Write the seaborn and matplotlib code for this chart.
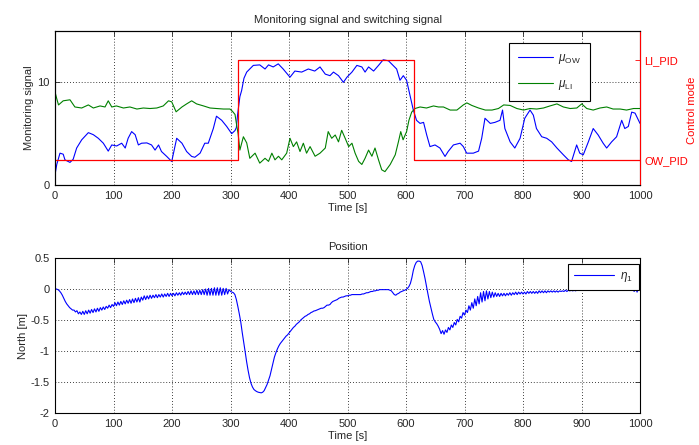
import numpy as np
import matplotlib
matplotlib.use("Agg")
import matplotlib.pyplot as plt
import seaborn as sns

# ---- monitoring signal of the OW controller ----
t_ow = [0, 3, 8.5, 14, 17, 25.6, 31, 37, 45.6, 57, 65.5, 74, 82.6, 91, 97, 105.4, 114, 120, 125, 131,
        137, 142.5, 148, 157, 165, 171, 177, 182, 191, 199.5, 203, 208, 217, 225, 233.6, 239, 248, 256,
        262, 270.6, 276, 285, 293.5, 302, 307.6, 310, 312, 316, 319, 323, 327.7, 333, 339, 350, 359, 365,
        373, 381.6, 390, 401.7, 410, 421.7, 433, 444, 453, 462, 470, 476, 484.6, 493, 499, 507.6, 516,
        524.5, 530, 536, 544.6, 553, 561, 570, 578, 584, 589.7, 595.4, 601, 606.8, 612.5, 618, 624, 630,
        635.4, 641, 649.6, 658, 666.7, 672, 681, 692.5, 698, 703.7, 715, 724, 729.4, 735, 744, 752,
        760.7, 765, 769, 778, 786, 795, 803, 812, 817.7, 823, 832, 840.5, 849, 858, 869, 877.5, 883,
        891.7, 897, 903, 911.7, 920, 928.5, 937, 943, 951.5, 960, 968.7, 974, 980, 985.8, 991.5, 1000]
mu_ow = [1.0, 2.0, 3.1, 3.0, 2.45, 2.2, 2.5, 3.6, 4.4, 5.1, 4.9, 4.55, 4.07, 3.3, 3.9, 3.8, 4.07, 3.6, 4.55, 5.2,
         4.9, 3.9, 4.07, 4.1, 3.9, 3.4, 3.9, 3.26, 2.78, 2.29, 3.2, 4.55, 4.07, 3.26, 2.78, 2.7, 3.1, 4.07,
         4.07, 5.5, 6.7, 6.3, 5.7, 5.0, 5.3, 5.6, 6.8, 8.6, 9.2, 10.4, 11.0, 11.3, 11.65, 11.7, 11.3, 11.7,
         11.5, 11.8, 11.3, 10.5, 11.1, 11.0, 11.3, 11.1, 11.5, 10.8, 10.65, 11.0, 10.65, 10.0, 10.5, 11.0, 11.65,
         11.5, 11.0, 11.5, 11.1, 11.65, 12.2, 12.1, 11.65, 11.3, 10.2, 10.65, 10.2, 8.75, 7.3, 6.3, 6.0, 6.1,
         4.87, 3.74, 3.9, 3.6, 2.78, 3.26, 3.9, 4.07, 3.74, 3.1, 3.1, 3.3, 4.55, 6.5, 6.0, 6.1,
         6.3, 7.3, 5.5, 4.2, 3.6, 4.55, 6.5, 7.3, 6.8, 5.5, 4.7, 4.55, 4.2, 3.6, 2.94, 2.45, 2.29,
         3.9, 3.1, 2.94, 4.2, 5.5, 4.87, 4.07, 3.6, 4.2, 4.7, 6.3, 5.5, 5.7, 7.1, 7.0, 6.0]

# ---- monitoring signal of the LI controller ----
t_li = [0, 3, 6, 14, 25.6, 34, 45.6, 57, 65.5, 77, 85.5, 91, 97, 105, 117, 128, 140, 151, 162.4, 174,
        185, 194, 199.5, 207, 217, 225, 233.6, 242, 254, 265, 276, 288, 299, 303, 307.7, 310.5, 313, 316,
        322, 327.7, 333, 342, 350, 359, 365, 370.7, 376, 382, 387.6, 396, 401.7, 407.4, 413, 418.8, 424.5,
        430, 436, 444.6, 453, 462, 467, 473, 479, 484.6, 490, 496, 502, 507.6, 513, 519, 524.5, 530, 536,
        541.7, 547, 553, 558.5, 564, 573, 581.6, 587, 591, 595, 601, 605, 609.7, 615.4, 624, 635, 647,
        655.6, 664, 675.5, 687, 698, 704, 712.5, 724, 735.6, 747, 758, 767, 778, 789.5, 801, 812, 823.5,
        835, 846, 858, 869, 880.6, 892, 900.4, 909, 920, 931.6, 943, 954, 966, 977, 989, 1000]
mu_li = [9.07, 8.4, 7.8, 8.2, 8.3, 7.6, 7.5, 7.8, 7.5, 7.7, 7.6, 8.2, 7.6, 7.7, 7.5, 7.6, 7.4, 7.5, 7.45, 7.5,
         7.7, 8.2, 8.1, 7.13, 7.6, 7.9, 8.2, 7.9, 7.7, 7.5, 7.45, 7.4, 7.4, 7.2, 6.87, 5.84, 5.0, 3.4,
         4.7, 4.1, 2.6, 3.1, 2.13, 2.6, 2.3, 3.1, 2.45, 2.8, 2.45, 3.1, 4.55, 3.74, 4.2, 3.26, 4.07,
         3.1, 3.74, 2.8, 3.1, 3.6, 5.2, 4.55, 4.87, 4.2, 5.33, 4.55, 3.74, 4.07, 3.1, 2.3, 2.0, 2.6, 3.4,
         2.8, 3.6, 2.45, 1.48, 1.3, 2.0, 2.94, 4.2, 5.2, 4.4, 5.2, 6.3, 7.1, 7.45, 7.6, 7.5, 7.7,
         7.6, 7.6, 7.3, 7.3, 7.8, 8.0, 7.75, 7.5, 7.3, 7.3, 7.45, 7.8, 7.75, 7.45, 7.3, 7.45, 7.4,
         7.5, 7.7, 7.9, 7.6, 7.45, 7.5, 7.9, 7.45, 7.3, 7.5, 7.6, 7.4, 7.4, 7.3, 7.45, 7.45]

# ---- switching signal (0 = OW_PID, 1 = LI_PID) ----
t_switch = [0, 312, 613, 1000]
mode_switch = [0, 1, 0, 0]
mode_names = ["OW_PID", "LI_PID"]

# ---- north position, sampled every 2.5 s ----
t_pos = np.arange(0, 1002.5, 2.5)
eta1 = [
    0.00, 0.00, -0.01, -0.03, -0.06, -0.10, -0.15, -0.20, -0.24, -0.27, -0.30, -0.32, -0.34, -0.34, -0.37, -0.35, -0.40, -0.37, -0.41, -0.36,
    -0.41, -0.35, -0.40, -0.34, -0.39, -0.33, -0.38, -0.32, -0.37, -0.31, -0.36, -0.30, -0.34, -0.29, -0.33, -0.28, -0.31, -0.26, -0.30, -0.25,
    -0.28, -0.22, -0.27, -0.21, -0.26, -0.20, -0.25, -0.19, -0.24, -0.18, -0.23, -0.17, -0.23, -0.16, -0.22, -0.15, -0.21, -0.14, -0.21, -0.13,
    -0.18, -0.11, -0.17, -0.11, -0.16, -0.10, -0.15, -0.10, -0.14, -0.09, -0.14, -0.09, -0.13, -0.08, -0.13, -0.08, -0.12, -0.07, -0.12, -0.07,
    -0.11, -0.07, -0.11, -0.06, -0.10, -0.06, -0.10, -0.05, -0.09, -0.05, -0.09, -0.04, -0.09, -0.03, -0.09, -0.03, -0.09, -0.02, -0.09, -0.02,
    -0.09, -0.01, -0.09, 0.00, -0.10, 0.01, -0.10, 0.01, -0.10, 0.02, -0.10, 0.02, -0.10, 0.02, -0.10, 0.01, -0.09, 0.01, -0.08, -0.01,
    -0.04, -0.05, -0.06, -0.09, -0.17, -0.28, -0.40, -0.53, -0.70, -0.85, -1.01, -1.17, -1.31, -1.43, -1.52, -1.58, -1.62, -1.64, -1.655, -1.665,
    -1.67, -1.675, -1.665, -1.64, -1.59, -1.54, -1.47, -1.40, -1.30, -1.20, -1.10, -1.03, -0.97, -0.92, -0.88, -0.85, -0.82, -0.79, -0.76, -0.74,
    -0.71, -0.68, -0.65, -0.62, -0.60, -0.57, -0.55, -0.53, -0.50, -0.48, -0.46, -0.44, -0.43, -0.41, -0.40, -0.38, -0.37, -0.355, -0.35, -0.34,
    -0.33, -0.32, -0.31, -0.31, -0.30, -0.28, -0.26, -0.26, -0.25, -0.22, -0.20, -0.19, -0.18, -0.17, -0.15, -0.14, -0.13, -0.13, -0.12, -0.11,
    -0.11, -0.10, -0.10, -0.09, -0.09, -0.09, -0.09, -0.09, -0.09, -0.09, -0.08, -0.08, -0.07, -0.06, -0.06, -0.05, -0.04, -0.04, -0.03, -0.03,
    -0.02, -0.02, -0.01, -0.01, -0.01, -0.01, -0.01, -0.01, -0.01, -0.02, -0.03, -0.06, -0.09, -0.10, -0.08, -0.07, -0.05, -0.04, -0.03, -0.02,
    -0.01, 0.01, 0.04, 0.09, 0.18, 0.30, 0.38, 0.43, 0.45, 0.45, 0.44, 0.38, 0.28, 0.17, 0.04, -0.08, -0.20, -0.30, -0.40, -0.49,
    -0.53, -0.56, -0.60, -0.65, -0.72, -0.67, -0.73, -0.66, -0.70, -0.62, -0.66, -0.58, -0.62, -0.54, -0.58, -0.49, -0.53, -0.44, -0.47, -0.38,
    -0.42, -0.34, -0.38, -0.27, -0.34, -0.22, -0.31, -0.16, -0.27, -0.12, -0.24, -0.06, -0.21, -0.04, -0.19, -0.03, -0.16, -0.04, -0.14, -0.05,
    -0.13, -0.06, -0.12, -0.07, -0.12, -0.07, -0.11, -0.07, -0.11, -0.07, -0.10, -0.06, -0.10, -0.06, -0.09, -0.05, -0.09, -0.05, -0.08, -0.05,
    -0.08, -0.05, -0.08, -0.04, -0.07, -0.04, -0.07, -0.04, -0.07, -0.04, -0.07, -0.03, -0.06, -0.03, -0.06, -0.03, -0.06, -0.03, -0.05, -0.03,
    -0.05, -0.03, -0.05, -0.03, -0.05, -0.03, -0.04, -0.03, -0.04, -0.02, -0.04, -0.02, -0.03, -0.02, -0.03, -0.02, -0.03, -0.01, -0.02, -0.01,
    -0.02, -0.01, -0.02, -0.01, -0.02, -0.01, -0.02, -0.01, -0.02, -0.01, -0.01, -0.01, -0.01, 0.00, -0.01, 0.00, -0.01, 0.00, -0.01, 0.00,
    -0.01, 0.00, -0.01, 0.00, -0.01, 0.00, -0.01, 0.00, -0.01, 0.00, -0.01, 0.00, -0.01, 0.00, -0.01, 0.01, -0.04, 0.02, -0.05, 0.03,
    0.06,
]

x_ticks = list(range(0, 1001, 100))
top_yticks = [0, 10]
pos_yticks = [0.5, 0, -0.5, -1, -1.5, -2]

# ---- style ----
sns.set_style("white")
plt.rcParams.update({
    "font.family": ["Liberation Sans", "DejaVu Sans"],
    "font.size": 8,
    "axes.unicode_minus": False,
    "xtick.direction": "in",
    "ytick.direction": "in",
    "xtick.major.size": 3.5,
    "ytick.major.size": 3.5,
    "xtick.major.width": 0.6,
    "ytick.major.width": 0.6,
    "axes.linewidth": 0.8,
    "axes.edgecolor": "black",
    "mathtext.fontset": "custom",
    "mathtext.rm": "Liberation Sans",
    "mathtext.it": "Liberation Sans:italic",
})

grid_kw = dict(linestyle=(0, (1, 2.5)), color="black", linewidth=0.6)

fig = plt.figure(figsize=(6.99, 4.45), dpi=100)
ax_top = fig.add_axes([0.0787, 0.5843, 0.8369, 0.3460])
ax_bot = fig.add_axes([0.0787, 0.0719, 0.8369, 0.3483])

# ---- upper panel: monitoring and switching signals ----
sns.lineplot(x=t_ow, y=mu_ow, ax=ax_top, color="#0000ff", lw=0.8, label=r"$\mu_{\rm OW}$",
             estimator=None, sort=False)
sns.lineplot(x=t_li, y=mu_li, ax=ax_top, color="#008000", lw=0.8, label=r"$\mu_{\rm LI}$",
             estimator=None, sort=False)
ax_top.set_xlim(0, 1000)
ax_top.set_ylim(0, 15)
ax_top.set_xticks(x_ticks)
ax_top.set_yticks(top_yticks)
ax_top.tick_params(top=True, right=True, labelsize=8, pad=4)
ax_top.grid(True, **grid_kw)
ax_top.set_title("Monitoring signal and switching signal", fontsize=8, pad=6)
ax_top.set_xlabel("Time [s]", fontsize=8, labelpad=2)
ax_top.set_ylabel("Monitoring signal", fontsize=8, labelpad=2)
handles, labels = ax_top.get_legend_handles_labels()
ax_top.get_legend().remove()

ax_mode = ax_top.twinx()
sns.lineplot(x=t_switch, y=mode_switch, ax=ax_mode, color="red", lw=0.9,
             drawstyle="steps-post", estimator=None, sort=False)
lo = -0.2443
ax_mode.set_ylim(lo, lo + 1.5337)
ax_mode.set_yticks([0, 1])
ax_mode.set_yticklabels(mode_names)
ax_mode.tick_params(axis="y", colors="red", labelcolor="red", labelsize=8, pad=3)
ax_mode.spines["right"].set_color("red")
ax_mode.set_ylabel("")
fig.text(0.9905, 0.752, "Control mode", rotation=90, color="red", fontsize=8,
         ha="center", va="center")

leg = ax_mode.legend(handles, labels, loc="upper left", bbox_to_anchor=(0.776, 0.922),
                     fontsize=8.5, frameon=True, fancybox=False, framealpha=1,
                     edgecolor="black", handlelength=3.0, labelspacing=1.0,
                     borderpad=0.75, handletextpad=0.4, borderaxespad=0)
leg.get_frame().set_linewidth(0.8)

# ---- lower panel: north position ----
sns.lineplot(x=t_pos, y=eta1, ax=ax_bot, color="#0000ff", lw=0.8, label=r"$\eta_1$",
             estimator=None, sort=False)
ax_bot.set_xlim(0, 1000)
ax_bot.set_ylim(-2, 0.5)
ax_bot.set_xticks(x_ticks)
ax_bot.set_yticks(pos_yticks)
ax_bot.set_yticklabels([f"{v:g}" for v in pos_yticks])
ax_bot.tick_params(top=True, right=True, labelsize=8, pad=4)
ax_bot.grid(True, **grid_kw)
ax_bot.set_title("Position", fontsize=8, pad=6)
ax_bot.set_xlabel("Time [s]", fontsize=8, labelpad=2)
ax_bot.set_ylabel("North [m]", fontsize=8, labelpad=2)
leg2 = ax_bot.legend(loc="upper left", bbox_to_anchor=(0.877, 0.961), fontsize=8.5,
                     frameon=True, fancybox=False, framealpha=1, edgecolor="black",
                     handlelength=3.4, borderpad=0.5, handletextpad=0.5, borderaxespad=0)
leg2.get_frame().set_linewidth(0.8)

for ax in (ax_top, ax_bot):
    for s in ax.spines.values():
        s.set_visible(True)
        s.set_color("black")
ax_mode.spines["right"].set_color("red")

fig.savefig("out.png", dpi=100)
